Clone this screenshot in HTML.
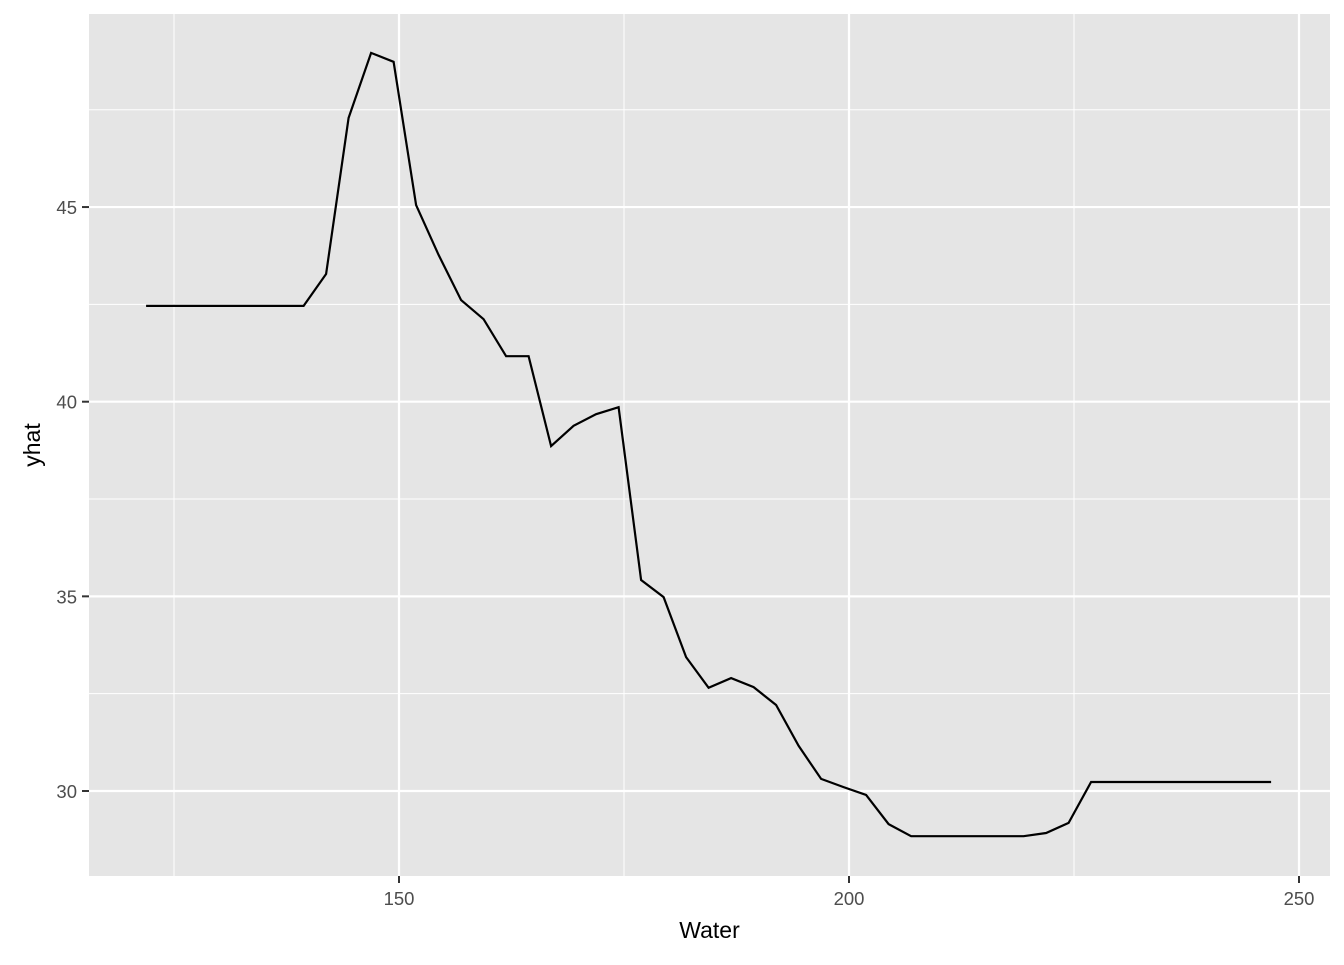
<!DOCTYPE html>
<html><head><meta charset="utf-8"><style>
body{margin:0;background:#fff;font-family:"Liberation Sans",Arial,sans-serif}
</style></head><body>
<svg id="chart" width="1344" height="960" xmlns="http://www.w3.org/2000/svg"></svg>
<script>
const xTicks=[150,200,250];
const xMinor=[125,175,225];
const yTicks=[30,35,40,45];
const yMinor=[32.5,37.5,42.5,47.5];
const waterStart=121.9, waterStep=2.5;
const yhat=[42.46,42.46,42.46,42.46,42.46,42.46,42.46,42.46,43.28,47.29,48.96,48.73,45.05,43.77,42.61,42.12,41.17,41.17,38.86,39.38,39.68,39.86,35.42,34.98,33.44,32.65,32.90,32.67,32.21,31.16,30.31,30.10,29.90,29.15,28.84,28.84,28.84,28.84,28.84,28.84,28.92,29.18,30.23,30.23,30.23,30.23,30.23,30.23,30.23,30.23,30.23];
const NS="http://www.w3.org/2000/svg";
const svg=document.getElementById('chart');
const L=89,R=1330,T=14,B=876;
const xs=v=>399+(v-150)*9;
const ys=v=>791-(v-30)*38.93;
function mk(t,a){const e=document.createElementNS(NS,t);for(const k in a)e.setAttribute(k,a[k]);svg.appendChild(e);return e;}
const bg=mk('rect',{x:L,y:T,width:R-L,height:B-T,fill:'#e5e5e5'});


xMinor.forEach(v=>{const l=mk('line',{x1:xs(v),x2:xs(v),y1:T,y2:B,stroke:'#fff','stroke-width':1});

});
yMinor.forEach(v=>{const l=mk('line',{x1:L,x2:R,y1:ys(v),y2:ys(v),stroke:'#fff','stroke-width':1});

});
xTicks.forEach(v=>{const l=mk('line',{x1:xs(v),x2:xs(v),y1:T,y2:B,stroke:'#fff','stroke-width':2.2});


const tk=mk('line',{x1:xs(v),x2:xs(v),y1:B,y2:B+7,stroke:'#333','stroke-width':2});


const t=mk('text',{x:xs(v),y:B+29,'text-anchor':'middle','font-size':18.5,fill:'#4d4d4d'});t.textContent=v;

});
yTicks.forEach(v=>{const l=mk('line',{x1:L,x2:R,y1:ys(v),y2:ys(v),stroke:'#fff','stroke-width':2.2});


const tk=mk('line',{x1:L-7,x2:L,y1:ys(v),y2:ys(v),stroke:'#333','stroke-width':2});


const t=mk('text',{x:L-12,y:ys(v)+7,'text-anchor':'end','font-size':18.5,fill:'#4d4d4d'});t.textContent=v;

});
const pts=yhat.map((v,i)=>xs(waterStart+i*waterStep).toFixed(1)+','+ys(v).toFixed(1)).join(' ');
const line=mk('polyline',{points:pts,fill:'none',stroke:'#000','stroke-width':2.2});


const xt=mk('text',{x:(L+R)/2,y:938,'text-anchor':'middle','font-size':23,fill:'#000'});xt.textContent='Water';


const yt=mk('text',{x:40,y:(T+B)/2,'text-anchor':'middle','font-size':23,fill:'#000',transform:`rotate(-90 40 ${(T+B)/2})`});yt.textContent='yhat';


</script>
</body></html>
